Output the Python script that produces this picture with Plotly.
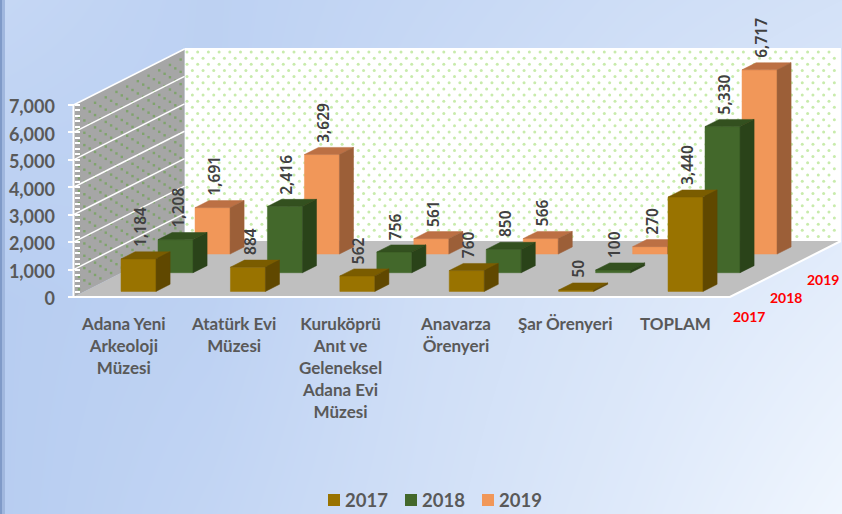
import plotly.graph_objects as go

# ---------- data ----------
categories = ["Adana Yeni<br>Arkeoloji<br>Müzesi", "Atatürk Evi<br>Müzesi",
              "Kuruköprü<br>Anıt ve<br>Geleneksel<br>Adana Evi<br>Müzesi",
              "Anavarza<br>Örenyeri", "Şar Örenyeri", "TOPLAM"]
years = ["2017", "2018", "2019"]
values_2017 = [1184, 884, 562, 760, 50, 3440]
values_2018 = [1208, 2416, 756, 850, 100, 5330]
values_2019 = [1691, 3629, 561, 566, 270, 6717]
value_ticks = [0, 1000, 2000, 3000, 4000, 5000, 6000, 7000]
minor_ticks = list(range(0, 7001, 200))
series = [values_2017, values_2018, values_2019]

# ---------- style ----------
W, H = 842, 514
ORI_X, ORI_Y = 73.5, 297.0
CAT_PX, VAL_PX = 109.4, 0.02743      # px per category / per value unit
ROW_DX_PX, ROW_DY_PX = 37.0, 18.67   # oblique depth vector per year row
ROW_DX, ROW_DY = ROW_DX_PX / CAT_PX, ROW_DY_PX / VAL_PX
FRONT, BAR_W, BAR_D, BAR_OFF = 0.30, 0.32, 0.38, 0.333
FACE = ["#997300", "#43682B", "#F19759"]
TOP = ["#7A5C00", "#33501F", "#BC7044"]
SIDE = ["#604800", "#2A4319", "#9C5F38"]
TICK_COL, LABEL_COL = "#595959", "#404040"
SANS = "Lato"


def X(c, d=0.0):
    return c + d * ROW_DX


def Y(v, d=0.0):
    return v + d * ROW_DY


def ux(px):
    return (px - ORI_X) / CAT_PX


def uy(py):
    return (ORI_Y - py) / VAL_PX


fig = go.Figure()

# background gradient
bg_x = [0, 210, 420, 630, 842]
bg_y = [0, 300, 514]
bg_z = [[.25, .10, .25, .40, .50],
        [.00, .10, .40, .60, .80],
        [.00, .20, .45, .70, 1.0]]
fig.add_trace(go.Heatmap(x=[ux(p) for p in bg_x], y=[uy(p) for p in bg_y], z=bg_z,
                         zsmooth="best", showscale=False, hoverinfo="skip", zmin=0, zmax=1,
                         colorscale=[[0, "#B7CDF1"], [1, "#F0F6FE"]]))


def poly(xs, ys, fill, line=None, lw=0.0):
    fig.add_trace(go.Scatter(x=xs, y=ys, mode="lines", fill="toself", fillcolor=fill,
                             line=dict(color=line or fill, width=lw),
                             showlegend=False, hoverinfo="skip"))


def line(xs, ys, color="white", lw=1.5):
    fig.add_trace(go.Scatter(x=xs, y=ys, mode="lines", line=dict(color=color, width=lw),
                             showlegend=False, hoverinfo="skip"))


# walls and floor
TOP_V, DEPTH, N = 7000, 3.0, len(categories)
poly([X(0, DEPTH), X(N, DEPTH), X(N, DEPTH), X(0, DEPTH)],
     [Y(0, DEPTH), Y(0, DEPTH), Y(TOP_V, DEPTH), Y(TOP_V, DEPTH)], "#FFFFFF")
poly([X(0), X(0, DEPTH), X(0, DEPTH), X(0)],
     [Y(0), Y(0, DEPTH), Y(TOP_V, DEPTH), Y(TOP_V)], "#A6A6A6")

# pattern dots
bx, by = [], []
for r in range(31):
    py = 52 + r * 6.15
    for k in range(62):
        px = 187 + k * 10.7 + (5.35 if r % 2 else 0)
        if px < 838:
            bx.append(ux(px)); by.append(uy(py))
fig.add_trace(go.Scatter(x=bx, y=by, mode="markers", showlegend=False, hoverinfo="skip",
                         marker=dict(symbol="circle", size=3, color="#C8EBAC", line=dict(width=0))))
sx, sy = [], []
for k in range(20):
    px = 79 + k * 5.35
    for r in range(32):
        py = 292 - (px - ORI_X) * 0.505 - r * 6.15 * 2 + (6.15 if k % 2 else 0)
        top = 105 - (px - ORI_X) * 0.505
        bot = 297 - (px - ORI_X) * 0.505
        if top + 3 < py < bot - 3:
            sx.append(ux(px)); sy.append(uy(py))
fig.add_trace(go.Scatter(x=sx, y=sy, mode="markers", showlegend=False, hoverinfo="skip",
                         marker=dict(symbol="square", size=2.4, color="#7FA36C", line=dict(width=0))))

# floor
poly([X(0), X(N), X(N, DEPTH), X(0, DEPTH)],
     [Y(0), Y(0), Y(0, DEPTH), Y(0, DEPTH)], "#BFBFBF")

# wall grid lines and edges
for v in value_ticks:
    if v:
        line([X(0), X(0, DEPTH)], [Y(v), Y(v, DEPTH)])
line([X(0, DEPTH), X(N, DEPTH)], [Y(TOP_V, DEPTH), Y(TOP_V, DEPTH)], lw=2)
line([X(0), X(0)], [Y(0), Y(TOP_V)], lw=2)
line([X(0), X(N), X(N, DEPTH)], [Y(0), Y(0), Y(0, DEPTH)], lw=2)

# bars: back row first
for row in (2, 1, 0):
    d0, d1 = row + FRONT, row + FRONT + BAR_D
    fx, fy, tx, ty, rx, ry = [], [], [], [], [], []
    for c, v in enumerate(series[row]):
        l, r = c + BAR_OFF, c + BAR_OFF + BAR_W
        fx += [X(l, d0), X(r, d0), X(r, d0), X(l, d0), X(l, d0), None]
        fy += [Y(0, d0), Y(0, d0), Y(v, d0), Y(v, d0), Y(0, d0), None]
        tx += [X(l, d0), X(r, d0), X(r, d1), X(l, d1), X(l, d0), None]
        ty += [Y(v, d0), Y(v, d0), Y(v, d1), Y(v, d1), Y(v, d0), None]
        rx += [X(r, d0), X(r, d1), X(r, d1), X(r, d0), X(r, d0), None]
        ry += [Y(0, d0), Y(0, d1), Y(v, d1), Y(v, d0), Y(0, d0), None]
    poly(fx, fy, FACE[row], lw=0.5)
    poly(tx, ty, TOP[row], lw=0.5)
    poly(rx, ry, SIDE[row], lw=0.5)

# legend swatches with their year text
for yr, col, p in zip(years, FACE, [334, 411, 488]):
    fig.add_trace(go.Scatter(x=[ux(p)], y=[uy(500)], mode="markers", name=yr, showlegend=False,
                             hoverinfo="skip", marker=dict(symbol="square", size=12, color=col,
                                                           line=dict(width=0))))

annotations = []
# value labels
for row in range(3):
    d1 = row + FRONT + BAR_D
    for c, v in enumerate(series[row]):
        annotations.append(dict(
            x=X(c + BAR_OFF + BAR_W / 2, row + FRONT) + 1.5 / CAT_PX, y=Y(v, d1),
            text=f"{v:,}", textangle=-90, showarrow=False, xanchor="center", yanchor="bottom",
            yshift=3, font=dict(family="Noto Sans", size=15.5, color=LABEL_COL, weight=600)))
# category labels
cat_px = [123, 233, 340, 455, 565.5, 675]
for p, name in zip(cat_px, categories):
    annotations.append(dict(x=ux(p), y=uy(311), text=name, showarrow=False, xanchor="center",
                            yanchor="top", align="center",
                            font=dict(family=SANS, size=17, color=TICK_COL, weight=700)))
# depth axis labels
for yr, (p, q) in zip(years, [(749, 316), (786, 297), (823, 279)]):
    annotations.append(dict(x=ux(p), y=uy(q), text=yr, showarrow=False,
                            font=dict(family=SANS, size=14, color="#FF0000", weight=700)))
# legend text
for yr, p in zip(years, [345, 422, 499]):
    annotations.append(dict(x=ux(p), y=uy(499.5), text=yr, showarrow=False, xanchor="left",
                            xshift=-2, font=dict(family=SANS, size=18.5, color=TICK_COL, weight=700)))

fig.update_layout(
    width=W, height=H, margin=dict(l=0, r=0, t=0, b=0), autosize=False, showlegend=False,
    paper_bgcolor="#C8DAF6", plot_bgcolor="rgba(0,0,0,0)",
    xaxis=dict(visible=False, range=[ux(0), ux(W)], domain=[0, 1], fixedrange=True),
    yaxis=dict(range=[uy(H), uy(0)], domain=[0, 1], anchor="free", position=ORI_X / W,
               showgrid=False, zeroline=False, showline=False, fixedrange=True,
               tickmode="array", tickvals=value_ticks, tickformat=",",
               ticks="outside", ticklen=6, tickwidth=2, tickcolor="white",
               ticklabelstandoff=9, ticklabelshift=2,
               tickfont=dict(family=SANS, size=18, color=TICK_COL, weight=700),
               minor=dict(tickmode="array", tickvals=minor_ticks, ticks="inside", ticklen=5,
                          tickwidth=1.5, tickcolor="white", showgrid=False)),
    shapes=[dict(type="rect", xref="paper", yref="paper", x0=0, x1=2 / W, y0=0, y1=1,
                 fillcolor="#7F9AC8", line_width=0),
            dict(type="rect", xref="paper", yref="paper", x0=2 / W, x1=5 / W, y0=0, y1=1,
                 fillcolor="#A0B7DE", line_width=0)],
    annotations=annotations,
)
fig.write_html("out.html", config={"displayModeBar": False},
               post_script="document.body.style.margin='0';document.documentElement.style.overflow='hidden';")
